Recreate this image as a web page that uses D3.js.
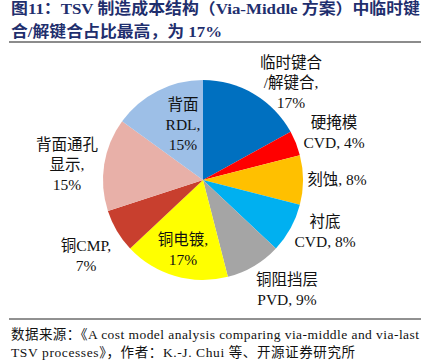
<!DOCTYPE html>
<html>
<head>
<meta charset="utf-8">
<script src="https://cdn.jsdelivr.net/npm/d3@7/dist/d3.min.js"></script>
<style>
  body { margin: 0; background: #fff; }
  svg { display: block; }
  .title { font-family: "Liberation Serif", "Noto Sans CJK SC", serif; font-weight: bold; font-size: 15.5px; fill: #1f2f6e; }
  .lbl { font-family: "Liberation Serif", "Noto Sans CJK SC", serif; font-size: 15.5px; fill: #111; }
  .src { font-family: "Liberation Serif", "Noto Sans CJK SC", serif; font-size: 13.5px; fill: #111; }
</style>
</head>
<body>
<svg width="430" height="364"></svg>
<script>
const svg = d3.select('svg');

// data
const categories = ['临时键合/解键合', '硬掩模CVD', '刻蚀', '衬底CVD', '铜阻挡层PVD', '铜电镀', '铜CMP', '背面通孔显示', '背面RDL'];
const values = [17, 4, 8, 8, 9, 17, 7, 15, 15];
const colors = ['#0070c0', '#ff0000', '#ffc000', '#00b0f0', '#a5a5a5', '#ffff00', '#c83f2e', '#e8b0a8', '#9dbfe7'];
// label text lines per slice
const labelLines = [
  ['临时键合', '/解键合,', '17%'],
  ['硬掩模', 'CVD, 4%'],
  ['刻蚀, 8%'],
  ['衬底', 'CVD, 8%'],
  ['铜阻挡层', 'PVD, 9%'],
  ['铜电镀,', '17%'],
  ['铜CMP,', '7%'],
  ['背面通孔', '显示,', '15%'],
  ['背面', 'RDL,', '15%']
];
// label anchor (x centre, first line y) in pixels
const labelPos = [[291, 63], [334, 123], [337, 180], [325, 222], [287, 280], [183, 240], [86, 246], [67, 145], [183, 105]];

const cx = 203, cy = 180, r = 100;

// title
const titleLines = ['图11：TSV 制造成本结构（Via-Middle 方案）中临时键', '合/解键合占比最高，为 17%'];
const titleLen = [409, 211];
svg.selectAll('.title').data(titleLines).enter().append('text')
  .attr('class', 'title')
  .attr('x', 11)
  .attr('y', (d, i) => 14 + i * 23)
  .attr('textLength', (d, i) => titleLen[i])
  .attr('lengthAdjust', 'spacingAndGlyphs')
  .text(d => d);

svg.append('line').attr('x1', 9).attr('x2', 421).attr('y1', 42).attr('y2', 42)
  .attr('stroke', '#8c8c8c').attr('stroke-width', 2);

// pie
const pie = d3.pie().sort(null).value(d => d)(values);
const arc = d3.arc().innerRadius(0).outerRadius(r);

const g = svg.append('g').attr('transform', `translate(${cx},${cy})`);
g.selectAll('path').data(pie).enter().append('path')
  .attr('d', arc)
  .attr('fill', (d, i) => colors[i]);

// labels
labelLines.forEach((lines, i) => {
  const t = svg.append('text').attr('class', 'lbl').attr('text-anchor', 'middle');
  lines.forEach((s, j) => {
    t.append('tspan')
      .attr('x', labelPos[i][0])
      .attr('y', labelPos[i][1] + j * 20)
      .attr('dy', '0.35em')
      .text(s);
  });
});

// source
svg.append('line').attr('x1', 9).attr('x2', 421).attr('y1', 319).attr('y2', 319)
  .attr('stroke', '#222').attr('stroke-width', 1);

const srcLines = ['数据来源：《A cost model analysis comparing via-middle and via-last', 'TSV processes》，作者：K.-J. Chui 等、开源证券研究所'];
const srcLen = [408, 344];
svg.selectAll('.src').data(srcLines).enter().append('text')
  .attr('class', 'src')
  .attr('x', 11)
  .attr('y', (d, i) => 339 + i * 18)
  .attr('textLength', (d, i) => srcLen[i])
  .text(d => d);
</script>
</body>
</html>
